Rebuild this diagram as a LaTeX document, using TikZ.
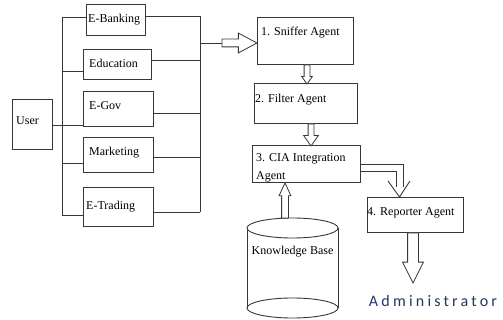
\documentclass[tikz,border=0pt]{standalone}
\usepackage{fontspec}
\setmainfont{Liberation Serif}
\newfontfamily\adminfont[LetterSpace=20]{Carlito}
\usetikzlibrary{shapes.arrows,calc}
\definecolor{navy}{RGB}{31,56,100}
\definecolor{ln}{RGB}{55,55,55}
\tikzset{
 box/.style={draw=ln, line width=1pt, inner sep=0pt, outer sep=0pt},
 lbl/.style={anchor=west, inner sep=0pt, font=\fontsize{12}{14}\selectfont},
 wire/.style={draw=ln, line width=0.9pt},
 harrow/.style={single arrow, draw=ln, line width=0.8pt, fill=white, outer sep=0pt, minimum width=0pt},
}
\newcommand\hollow[3][]{\path let \p1=(#2), \p2=(#3), \n1={atan2(\y2-\y1,\x2-\x1)}, \n2={veclen(\x2-\x1,\y2-\y1)} in node[harrow, #1, minimum height=\n2, rotate=\n1, anchor=tail] at (\p1) {};}
\begin{document}
\begin{tikzpicture}[x=1pt,y=-1pt]
\useasboundingbox (0,0) rectangle (503,320);
% boxes
\node[box, minimum width=40pt, minimum height=50pt] (user) at (32,125) {};
\node[box, minimum width=59pt, minimum height=31pt] (ebank) at (115.5,20.5) {};
\node[box, minimum width=68pt, minimum height=30pt] (edu) at (117,65) {};
\node[box, minimum width=70pt, minimum height=35pt] (egov) at (118,109.5) {};
\node[box, minimum width=70pt, minimum height=35pt] (market) at (118,155.5) {};
\node[box, minimum width=70pt, minimum height=39pt] (etrade) at (118,207.5) {};
\node[box, minimum width=96pt, minimum height=47pt] (sniffer) at (305,41.5) {};
\node[box, minimum width=103pt, minimum height=40pt] (filter) at (305.5,104) {};
\node[box, minimum width=108pt, minimum height=37pt] (cia) at (306,164.5) {};
\node[box, minimum width=96pt, minimum height=35pt] (reporter) at (415,215.5) {};
% labels
\node[lbl] (tuser) at (16,121) {User};
\node[lbl] (tebank) at (88,20) {E-Banking};
\node[lbl] (tedu) at (89,63) {Education};
\node[lbl] (tegov) at (89,106) {E-Gov};
\node[lbl] (tmarket) at (89,153) {Marketing};
\node[lbl] (tetrade) at (86,207) {E-Trading};
\node[lbl] (tsniffer) at (261,33) {1. Sniffer Agent};
\node[lbl] (tfilter) at (255,100) {2. Filter Agent};
\node[lbl] (tcia1) at (256,159) {3. CIA Integration};
\node[lbl] (tcia2) at (256,177) {Agent};
\node[lbl] (treporter) at (367,213) {4. Reporter Agent};
% left bus
\coordinate (lbtop) at (62,17);
\coordinate (lb2) at (62,71);
\coordinate (lb4) at (62,163);
\coordinate (lbbot) at (62,215);
\draw[wire] (lbtop) -- (lbbot);
\draw[wire] (lbtop) -- (lbtop -| ebank.west);
\draw[wire] (lb2) -- (lb2 -| edu.west);
\draw[wire] (user.east) -- (user.east -| egov.west);
\draw[wire] (lb4) -- (lb4 -| market.west);
\draw[wire] (lbbot) -- (lbbot -| etrade.west);
% right bus
\coordinate (rbtop) at (200,16);
\coordinate (rb2) at (200,60);
\coordinate (rb3) at (200,113);
\coordinate (rb4) at (200,157);
\coordinate (rbbot) at (200,212);
\draw[wire] (rbtop) -- (rbbot);
\draw[wire] (ebank.east |- rbtop) -- (rbtop);
\draw[wire] (edu.east |- rb2) -- (rb2);
\draw[wire] (egov.east |- rb3) -- (rb3);
\draw[wire] (market.east |- rb4) -- (rb4);
\draw[wire] (etrade.east |- rbbot) -- (rbbot);
% arrow to sniffer
\coordinate (rbout) at (200,43);
\coordinate (sa) at (222,43);
\draw[wire] (rbout) -- (sa);
\hollow[inner sep=3.5pt, single arrow head extend=6pt, single arrow tip angle=56]{sa}{sa -| sniffer.west}
% vertical arrows
\coordinate (ax1) at (307,0);
\coordinate (ax2) at (311,0);
\hollow[inner sep=2.5pt, single arrow head extend=2.5pt, single arrow tip angle=71]{ax1 |- sniffer.south}{ax1 |- filter.north}
\hollow[inner sep=2.5pt, single arrow head extend=4.5pt, single arrow tip angle=70]{ax2 |- filter.south}{ax2 |- cia.north}
% knowledge base cylinder
\draw[wire] (247,228) -- (247,308);
\draw[wire] (338,228) -- (338,308);
\draw[wire, fill=white] (292.5,228) ellipse [x radius=45.5pt, y radius=10pt];
\draw[wire] (292.5,308) ellipse [x radius=45.5pt, y radius=10pt];
\node[lbl, anchor=center] (kb) at (292.5,252) {Knowledge Base};
\coordinate (kbtop) at (285,218);
\coordinate (ax3) at (285,0);
\hollow[inner sep=3pt, single arrow head extend=2.5pt, single arrow tip angle=50]{kbtop}{ax3 |- cia.south}
% CIA to reporter
\coordinate (co1) at (cia.east);
\coordinate (co2) at ($(cia.east)+(0,7)$);
\coordinate (ck1) at (403,187);
\coordinate (ck2) at (396,187);
\draw[wire] (co1) -| (ck1);
\draw[wire] (co2) -| (ck2);
\coordinate (vl) at (388,181);
\coordinate (vt) at (399.5,197);
\coordinate (vr) at (410,181);
\draw[wire] (vl) -- (vt) -- (vr);
% reporter to administrator
\coordinate (ax4) at (413,0);
\coordinate (adm) at (413,283);
\hollow[inner sep=5pt, single arrow head extend=5pt, single arrow tip angle=53]{ax4 |- reporter.south}{adm}
\node[inner sep=0pt, text=navy, font=\adminfont\fontsize{16}{18}\selectfont] (admin) at (433,301) {Administrator};
\end{tikzpicture}
\end{document}
